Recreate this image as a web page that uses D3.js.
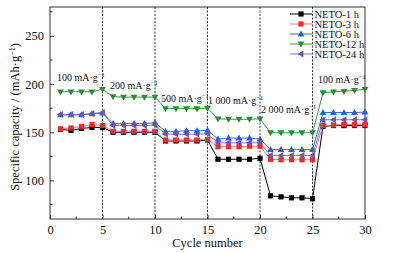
<!DOCTYPE html>
<html><head><meta charset="utf-8">
<script src="https://cdn.jsdelivr.net/npm/d3@7"></script>
<style>body{margin:0;background:#fff}svg{display:block}svg text{font-family:"Liberation Serif","Times New Roman",serif !important}</style>
</head><body><svg id="c" width="402" height="253"></svg>
<script>
const cycles = d3.range(1, 31);
const seriesNames = ["NETO-1 h","NETO-3 h","NETO-6 h","NETO-12 h","NETO-24 h"];
const neto1  = [153,152,154,155,155, 150,150,150,150,150, 141,141,141,141,142, 122,122,122,122,123, 84,83,82,82,81, 156,157,157,157,157];
const neto3  = [153.5,154.5,156,158,157, 151,151,151,151,151, 142,142,142,142,142.5, 135,135,135,135.5,135.5, 122,121.5,121.5,121.5,121.5, 157,157.5,158,158,158];
const neto6  = [168,168,168,169,170, 159,159,159,159,160, 151,151,151.5,151.5,152, 143,144,144,144,143, 132,132,132,132,132, 170.5,170.5,170.5,170.5,171];
const neto12 = [192,192,192,192,194.5, 187,186.5,186.5,186.5,186.5, 174.5,174.5,174.5,174.5,175, 164,163.5,163.5,163.5,164, 149.5,149.5,149.5,149.5,149.5, 191,192,192.5,193.5,194.5];
const neto24 = [168.5,168.5,168.5,169.5,170.5, 157,157,157,157,157.5, 148,148,148,148,148.5, 139,139,139,139,139, 126,126,126,126,126, 163,163,163,163,163];
const rateLabels = ["100 mA·g","200 mA·g","500 mA·g","1 000 mA·g","2 000 mA·g","100 mA·g"];
const xTicks = [0,5,10,15,20,25,30];
const yTicks = [100,150,200,250];

const colors = ["#000000","#ee2a2a","#2f5fc0","#2f8a37","#6a55b5"];
const lineColors = ["#000000","#f07a7a","#3d6ad0","#3a9a44","#8272c8"];
const shapes = ["square","square","up","down","left"];
const data = [neto1,neto3,neto6,neto12,neto24];
const FF = "'Liberation Serif','Times New Roman',serif";

const svg = d3.select("#c");
const L=50, R=365, T=7, B=219;
const x = d3.scaleLinear().domain([0,30]).range([L,R]);
const y = d3.scaleLinear().domain([60,280]).range([B,T]);

svg.append("rect").attr("x",L).attr("y",T).attr("width",R-L).attr("height",B-T)
  .attr("fill","none").attr("stroke","#333").attr("stroke-width",1);

[5,10,15,20,25].forEach(v=>{
  svg.append("line").attr("x1",x(v)).attr("x2",x(v)).attr("y1",T).attr("y2",B)
   .attr("stroke","#222").attr("stroke-width",0.9).attr("stroke-dasharray","2,1.5");
});

const xAxis = d3.axisBottom(x).tickValues(xTicks).tickSize(-4).tickPadding(6).tickFormat(d3.format("d"));
const gx = svg.append("g").attr("transform",`translate(0,${B})`).call(xAxis);
const yAxis = d3.axisLeft(y).tickValues(yTicks).tickSize(-4).tickPadding(6);
const gy = svg.append("g").attr("transform",`translate(${L},0)`).call(yAxis);
[gx,gy].forEach(g=>{g.attr("font-family",FF);g.select(".domain").remove();g.selectAll("text").attr("font-size",12.5).attr("fill","#111");g.selectAll("line").attr("stroke","#333");});
d3.range(2.5,30,5).forEach(v=>svg.append("line").attr("x1",x(v)).attr("x2",x(v)).attr("y1",B).attr("y2",B-2.5).attr("stroke","#333"));
[75,125,175,225,275].forEach(v=>svg.append("line").attr("x1",L).attr("x2",L+2.5).attr("y1",y(v)).attr("y2",y(v)).attr("stroke","#333"));

svg.append("text").attr("x",x(15)).attr("y",247).attr("text-anchor","middle").attr("font-size",12.5).attr("font-family",FF).attr("fill","#111").text("Cycle number");
const yt = svg.append("text").attr("transform",`translate(19,${(T+B)/2+4}) rotate(-90)`).attr("text-anchor","middle").attr("font-size",12.5).attr("font-family",FF).attr("fill","#111");
yt.append("tspan").text("Specific capacity / (mAh·g");
yt.append("tspan").attr("dy",-4).attr("font-size",8).text("−1");
yt.append("tspan").attr("dy",4).text(")");

function marker(g, shape, cx, cy, col){
  if(shape==="square") g.append("rect").attr("x",cx-2.6).attr("y",cy-2.6).attr("width",5.2).attr("height",5.2).attr("fill",col);
  else {
    let pts;
    if(shape==="up") pts=[[cx,cy-3.6],[cx-3.4,cy+2.4],[cx+3.4,cy+2.4]];
    if(shape==="down") pts=[[cx,cy+3.6],[cx-3.4,cy-2.4],[cx+3.4,cy-2.4]];
    if(shape==="left") pts=[[cx-3.6,cy],[cx+2.4,cy-3.4],[cx+2.4,cy+3.4]];
    g.append("polygon").attr("points",pts.map(p=>p.join(",")).join(" ")).attr("fill",col);
  }
}

const line = d3.line().x((d,i)=>x(cycles[i])).y(d=>y(d));
[0,1,2,3,4].forEach(k=>{
  const g=svg.append("g");
  g.append("path").datum(data[k]).attr("d",line).attr("fill","none").attr("stroke",lineColors[k]).attr("stroke-width",1);
  data[k].forEach((v,i)=>marker(g,shapes[k],x(cycles[i]),y(v),colors[k]));
});

const labPos=[[57,81],[110,89],[161,102],[208,104],[261,113],[318,83]];
rateLabels.forEach((t,i)=>{
  const tx=svg.append("text").attr("x",labPos[i][0]).attr("y",labPos[i][1]).attr("font-size",10).attr("font-family",FF).attr("fill","#111");
  tx.append("tspan").text(t);
  tx.append("tspan").attr("dy",-4).attr("font-size",6.5).text("−1");
});

seriesNames.forEach((n,k)=>{
  const ly=14+k*10;
  svg.append("line").attr("x1",290).attr("x2",312).attr("y1",ly).attr("y2",ly).attr("stroke",lineColors[k]).attr("stroke-width",1);
  marker(svg,shapes[k],301,ly,colors[k]);
  svg.append("text").attr("x",314.5).attr("y",ly+3.5).attr("font-size",10.5).attr("font-family",FF).attr("fill","#111").text(n);
});
</script></body></html>
